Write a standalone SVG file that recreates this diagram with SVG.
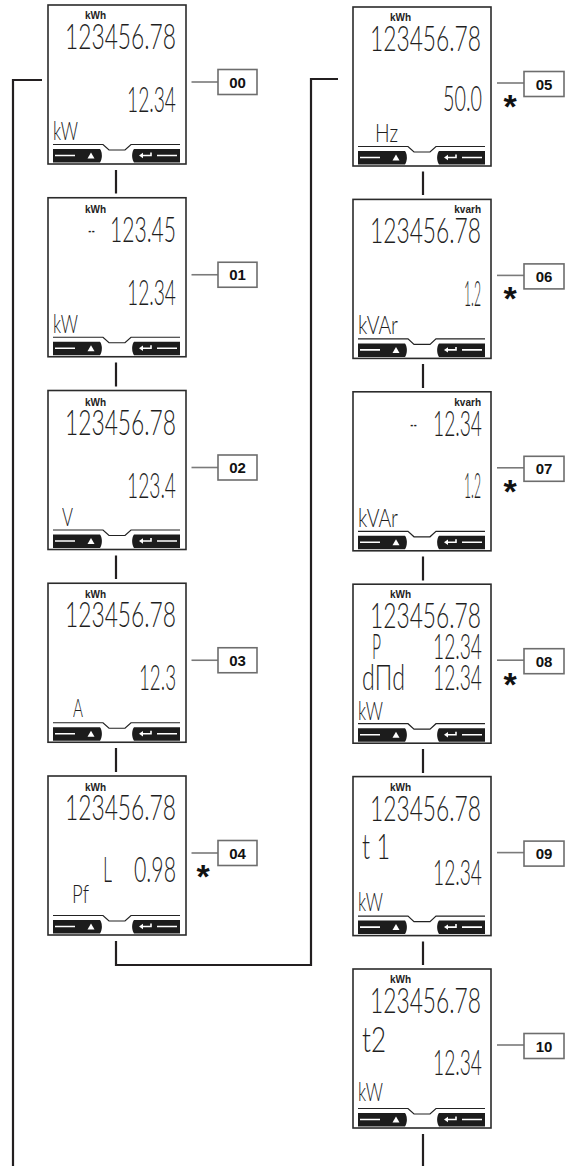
<svg xmlns="http://www.w3.org/2000/svg" xmlns:xlink="http://www.w3.org/1999/xlink" width="573" height="1169" viewBox="0 0 573 1169">
<style>
.frame{fill:#fff;stroke:#2b2b2b;stroke-width:1.6}
.sep{fill:none;stroke:#222;stroke-width:1.2}
.barblk{fill:#1c1c1c}
.barw{fill:none;stroke:#fff;stroke-width:1.6}
.barwf{fill:#fff}
.lcd{font-family:Lato,"DejaVu Sans",sans-serif;font-weight:300;fill:#1a1a1a;font-size:36px;opacity:0.98}
.unit{font-family:Lato,"DejaVu Sans",sans-serif;font-weight:300;fill:#1a1a1a;font-size:25px;opacity:0.98}
.kwh{font-family:"Liberation Sans",Arial,sans-serif;font-weight:bold;font-size:10px;fill:#222}
.lblbox{fill:#fff;stroke:#6d6d6d;stroke-width:1.6}
.lbltxt{font-family:"Liberation Sans",Arial,sans-serif;font-weight:bold;font-size:15px;fill:#111;text-anchor:middle}
.lead{stroke:#7a7a7a;stroke-width:1.6}
.star{font-family:"Liberation Sans",Arial,sans-serif;font-weight:bold;font-size:34px;fill:#111;text-anchor:middle}
.conn{fill:none;stroke:#231f20;stroke-width:2.2}
</style>
<defs>
<g id="lcdframe">
<rect class="frame" x="0" y="0" width="138" height="159"/>
<path class="sep" d="M5,139.5 H55 L61,145 H77 L83,139.5 H132"/>
<path class="barblk" d="M5,144 H52 C54.5,147 54.5,154 52,157.5 H5 Z"/>
<path class="barblk" d="M86,144 H132 V157.5 H86 C83.5,154 83.5,147 86,144 Z"/>
<path class="barw" d="M7,150.5 H27 M109,150.5 H129 M103,147.5 V150.5 H94"/>
<polygon class="barwf" points="39.5,153.5 46.5,153.5 43,147.5"/>
<polygon class="barwf" points="91,150.5 95,147.8 95,153.2"/>
</g>
</defs>

<g id="connectors">
<path class="conn" d="M42,80 H13 V1166"/>
<path class="conn" d="M116,170 V193.5 M116,362.5 V386.5 M116,555.5 V579 M116,748 V772"/>
<path class="conn" d="M116,941 V965 H311 V79 H338"/>
<path class="conn" d="M423,171.5 V195 M423,364 V388 M423,556.5 V580.5 M423,749 V773 M423,941.5 V965 M423,1134 V1166"/>
</g>

<g id="screen-00" transform="translate(48,5)">
<use xlink:href="#lcdframe"/>
<text class="kwh" x="37" y="14">kWh</text>
<text class="lcd" x="17" y="44" textLength="111" lengthAdjust="spacingAndGlyphs">123456.78</text>
<text class="lcd" x="79" y="107" textLength="49" lengthAdjust="spacingAndGlyphs">12.34</text>
<text class="unit" x="5" y="135" textLength="25" lengthAdjust="spacingAndGlyphs">kW</text>
<line class="lead" x1="143.5" y1="77" x2="170" y2="77"/>
<rect class="lblbox" x="170" y="64.5" width="39" height="25"/>
<text class="lbltxt" x="189.5" y="82.5">00</text>
</g>

<g id="screen-01" transform="translate(48,197.75)">
<use xlink:href="#lcdframe"/>
<text class="kwh" x="37" y="15">kWh</text>
<text class="lcd" x="40" y="44" textLength="7" lengthAdjust="spacingAndGlyphs">--</text>
<text class="lcd" x="62" y="44" textLength="66" lengthAdjust="spacingAndGlyphs">123.45</text>
<text class="lcd" x="79" y="107" textLength="49" lengthAdjust="spacingAndGlyphs">12.34</text>
<text class="unit" x="5" y="135" textLength="25" lengthAdjust="spacingAndGlyphs">kW</text>
<line class="lead" x1="143.5" y1="77" x2="170" y2="77"/>
<rect class="lblbox" x="170" y="64.5" width="39" height="25"/>
<text class="lbltxt" x="189.5" y="82.5">01</text>
</g>

<g id="screen-02" transform="translate(48,390.5)">
<use xlink:href="#lcdframe"/>
<text class="kwh" x="37" y="15">kWh</text>
<text class="lcd" x="17" y="44" textLength="111" lengthAdjust="spacingAndGlyphs">123456.78</text>
<text class="lcd" x="79" y="107" textLength="49" lengthAdjust="spacingAndGlyphs">123.4</text>
<text class="unit" x="14" y="135" textLength="11" lengthAdjust="spacingAndGlyphs">V</text>
<line class="lead" x1="143.5" y1="77" x2="170" y2="77"/>
<rect class="lblbox" x="170" y="64.5" width="39" height="25"/>
<text class="lbltxt" x="189.5" y="82.5">02</text>
</g>

<g id="screen-03" transform="translate(48,583.25)">
<use xlink:href="#lcdframe"/>
<text class="kwh" x="37" y="15">kWh</text>
<text class="lcd" x="17" y="44" textLength="111" lengthAdjust="spacingAndGlyphs">123456.78</text>
<text class="lcd" x="91" y="107" textLength="37" lengthAdjust="spacingAndGlyphs">12.3</text>
<text class="unit" x="25" y="134" textLength="10" lengthAdjust="spacingAndGlyphs">A</text>
<line class="lead" x1="143.5" y1="77" x2="170" y2="77"/>
<rect class="lblbox" x="170" y="64.5" width="39" height="25"/>
<text class="lbltxt" x="189.5" y="82.5">03</text>
</g>

<g id="screen-04" transform="translate(48,776)">
<use xlink:href="#lcdframe"/>
<text class="kwh" x="37" y="15">kWh</text>
<text class="lcd" x="17" y="44" textLength="111" lengthAdjust="spacingAndGlyphs">123456.78</text>
<text class="lcd" x="55" y="106" textLength="9" lengthAdjust="spacingAndGlyphs">L</text>
<text class="lcd" x="86" y="106" textLength="42" lengthAdjust="spacingAndGlyphs">0.98</text>
<text class="unit" x="24" y="127" textLength="17" lengthAdjust="spacingAndGlyphs">Pf</text>
<line class="lead" x1="143.5" y1="77" x2="170" y2="77"/>
<rect class="lblbox" x="170" y="64.5" width="39" height="25"/>
<text class="lbltxt" x="189.5" y="82.5">04</text>
<text class="star" x="155" y="112">*</text>
</g>

<g id="screen-05" transform="translate(353,7)">
<use xlink:href="#lcdframe"/>
<text class="kwh" x="37" y="14">kWh</text>
<text class="lcd" x="17" y="44" textLength="111" lengthAdjust="spacingAndGlyphs">123456.78</text>
<text class="lcd" x="90" y="104" textLength="39" lengthAdjust="spacingAndGlyphs">50.0</text>
<text class="unit" x="22" y="135" textLength="23" lengthAdjust="spacingAndGlyphs">Hz</text>
<line class="lead" x1="144" y1="76" x2="171" y2="76"/>
<rect class="lblbox" x="171" y="64.5" width="40" height="25"/>
<text class="lbltxt" x="191" y="82.5">05</text>
<text class="star" x="157" y="111">*</text>
</g>

<g id="screen-06" transform="translate(353,199.4)">
<use xlink:href="#lcdframe"/>
<text class="kwh" x="128" y="14" text-anchor="end">kvarh</text>
<text class="lcd" x="17" y="44" textLength="111" lengthAdjust="spacingAndGlyphs">123456.78</text>
<text class="lcd" x="111" y="107" textLength="17" lengthAdjust="spacingAndGlyphs">1.2</text>
<text class="unit" x="5" y="135" textLength="40" lengthAdjust="spacingAndGlyphs">kVAr</text>
<line class="lead" x1="144" y1="76" x2="171" y2="76"/>
<rect class="lblbox" x="171" y="64.5" width="40" height="25"/>
<text class="lbltxt" x="191" y="82.5">06</text>
<text class="star" x="157" y="111">*</text>
</g>

<g id="screen-07" transform="translate(353,391.8)">
<use xlink:href="#lcdframe"/>
<text class="kwh" x="128" y="14" text-anchor="end">kvarh</text>
<text class="lcd" x="57" y="44" textLength="7" lengthAdjust="spacingAndGlyphs">--</text>
<text class="lcd" x="80" y="44" textLength="49" lengthAdjust="spacingAndGlyphs">12.34</text>
<text class="lcd" x="111" y="106" textLength="17" lengthAdjust="spacingAndGlyphs">1.2</text>
<text class="unit" x="5" y="135" textLength="40" lengthAdjust="spacingAndGlyphs">kVAr</text>
<line class="lead" x1="144" y1="76" x2="171" y2="76"/>
<rect class="lblbox" x="171" y="64.5" width="40" height="25"/>
<text class="lbltxt" x="191" y="82.5">07</text>
<text class="star" x="157" y="111">*</text>
</g>

<g id="screen-08" transform="translate(353,584.2)">
<use xlink:href="#lcdframe"/>
<text class="kwh" x="37" y="14">kWh</text>
<text class="lcd" x="17" y="44" textLength="111" lengthAdjust="spacingAndGlyphs">123456.78</text>
<text class="lcd" x="19" y="75" textLength="9" lengthAdjust="spacingAndGlyphs">P</text>
<text class="lcd" x="80" y="75" textLength="49" lengthAdjust="spacingAndGlyphs">12.34</text>
<text class="lcd" x="9" y="106" textLength="43" lengthAdjust="spacingAndGlyphs">dΠd</text>
<text class="lcd" x="80" y="106" textLength="49" lengthAdjust="spacingAndGlyphs">12.34</text>
<text class="unit" x="5" y="136" textLength="25" lengthAdjust="spacingAndGlyphs">kW</text>
<line class="lead" x1="144" y1="76" x2="171" y2="76"/>
<rect class="lblbox" x="171" y="64.5" width="40" height="25"/>
<text class="lbltxt" x="191" y="82.5">08</text>
<text class="star" x="157" y="112">*</text>
</g>

<g id="screen-09" transform="translate(353,776.6)">
<use xlink:href="#lcdframe"/>
<text class="kwh" x="37" y="14">kWh</text>
<text class="lcd" x="17" y="44" textLength="111" lengthAdjust="spacingAndGlyphs">123456.78</text>
<text class="lcd" x="9" y="82" textLength="28" lengthAdjust="spacingAndGlyphs">t 1</text>
<text class="lcd" x="80" y="108" textLength="49" lengthAdjust="spacingAndGlyphs">12.34</text>
<text class="unit" x="5" y="134" textLength="25" lengthAdjust="spacingAndGlyphs">kW</text>
<line class="lead" x1="144" y1="76" x2="171" y2="76"/>
<rect class="lblbox" x="171" y="64.5" width="40" height="25"/>
<text class="lbltxt" x="191" y="82.5">09</text>
</g>

<g id="screen-10" transform="translate(353,969)">
<use xlink:href="#lcdframe"/>
<text class="kwh" x="37" y="14">kWh</text>
<text class="lcd" x="17" y="44" textLength="111" lengthAdjust="spacingAndGlyphs">123456.78</text>
<text class="lcd" x="9" y="83" textLength="24" lengthAdjust="spacingAndGlyphs">t2</text>
<text class="lcd" x="80" y="106" textLength="49" lengthAdjust="spacingAndGlyphs">12.34</text>
<text class="unit" x="5" y="132" textLength="25" lengthAdjust="spacingAndGlyphs">kW</text>
<line class="lead" x1="144" y1="76" x2="171" y2="76"/>
<rect class="lblbox" x="171" y="64.5" width="40" height="25"/>
<text class="lbltxt" x="191" y="82.5">10</text>
</g>
</svg>
